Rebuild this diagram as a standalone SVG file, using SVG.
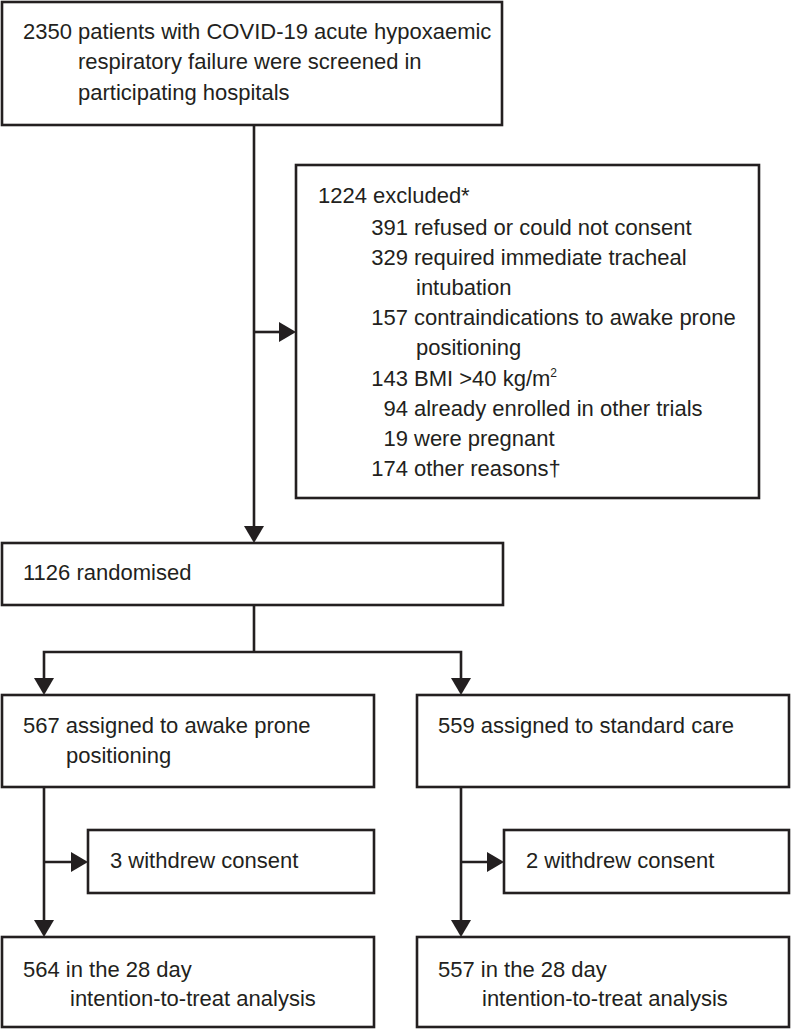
<svg xmlns="http://www.w3.org/2000/svg" width="791" height="1029" viewBox="0 0 791 1029">
<defs>
<style>
.box{fill:#fff;stroke:#231f20;stroke-width:2.6}
.ln{fill:none;stroke:#231f20;stroke-width:2.6}
text{font-family:"Liberation Sans",Arial,sans-serif;font-size:22px;fill:#231f20}
.num{text-anchor:end}
</style>
</defs>
<rect width="791" height="1029" fill="#fff"/>
<g id="connectors">
<line class="ln" x1="254" y1="125" x2="254" y2="527"/>
<path d="M244,526 L264,526 L254,543 Z" fill="#231f20"/>
<line class="ln" x1="254" y1="332" x2="281" y2="332"/>
<path d="M279,322 L279,342 L296,332 Z" fill="#231f20"/>
<path class="ln" d="M254,605 V652 M44,680 V652 H461 V680"/>
<path d="M34,678 L54,678 L44,695 Z" fill="#231f20"/>
<path d="M451,678 L471,678 L461,695 Z" fill="#231f20"/>
<path class="ln" d="M44,787 V922 M44,862 H73"/>
<path d="M34,920 L54,920 L44,937 Z" fill="#231f20"/>
<path d="M71,852 L71,872 L88,862 Z" fill="#231f20"/>
<path class="ln" d="M461,787 V922 M461,862 H489"/>
<path d="M451,920 L471,920 L461,937 Z" fill="#231f20"/>
<path d="M487,852 L487,872 L504,862 Z" fill="#231f20"/>
</g>
<g id="screened">
<rect class="box" x="2" y="2" width="500" height="123"/>
<text x="23" y="39">2350 patients with COVID-19 acute hypoxaemic</text>
<text x="78" y="69">respiratory failure were screened in</text>
<text x="78" y="100">participating hospitals</text>
</g>
<g id="excluded">
<rect class="box" x="296" y="165" width="463" height="333"/>
<text x="318" y="203">1224 excluded*</text>
<text class="num" x="408" y="235">391</text><text x="414" y="235">refused or could not consent</text>
<text class="num" x="408" y="265">329</text><text x="414" y="265">required immediate tracheal</text>
<text x="416" y="295">intubation</text>
<text class="num" x="408" y="325">157</text><text x="414" y="325">contraindications to awake prone</text>
<text x="416" y="355">positioning</text>
<text class="num" x="408" y="386">143</text><text x="414" y="386">BMI &gt;40 kg/m<tspan font-size="12" dy="-9">2</tspan></text>
<text class="num" x="408" y="416">94</text><text x="414" y="416">already enrolled in other trials</text>
<text class="num" x="408" y="446">19</text><text x="414" y="446">were pregnant</text>
<text class="num" x="408" y="476">174</text><text x="414" y="476">other reasons†</text>
</g>
<g id="randomised">
<rect class="box" x="2" y="543" width="501" height="62"/>
<text x="23" y="580">1126 randomised</text>
</g>
<g id="prone">
<rect class="box" x="2" y="695" width="372" height="92"/>
<text x="23" y="733">567 assigned to awake prone</text>
<text x="66" y="763">positioning</text>
</g>
<g id="standard">
<rect class="box" x="417" y="695" width="372" height="92"/>
<text x="438" y="733">559 assigned to standard care</text>
</g>
<g id="withdrew-left">
<rect class="box" x="88" y="830" width="286" height="63"/>
<text x="110" y="868">3 withdrew consent</text>
</g>
<g id="withdrew-right">
<rect class="box" x="504" y="830" width="285" height="63"/>
<text x="526" y="868">2 withdrew consent</text>
</g>
<g id="itt-left">
<rect class="box" x="2" y="937" width="372" height="90"/>
<text x="23" y="977">564 in the 28 day</text>
<text x="70" y="1006">intention-to-treat analysis</text>
</g>
<g id="itt-right">
<rect class="box" x="417" y="937" width="372" height="90"/>
<text x="438" y="977">557 in the 28 day</text>
<text x="482" y="1006">intention-to-treat analysis</text>
</g>
</svg>
